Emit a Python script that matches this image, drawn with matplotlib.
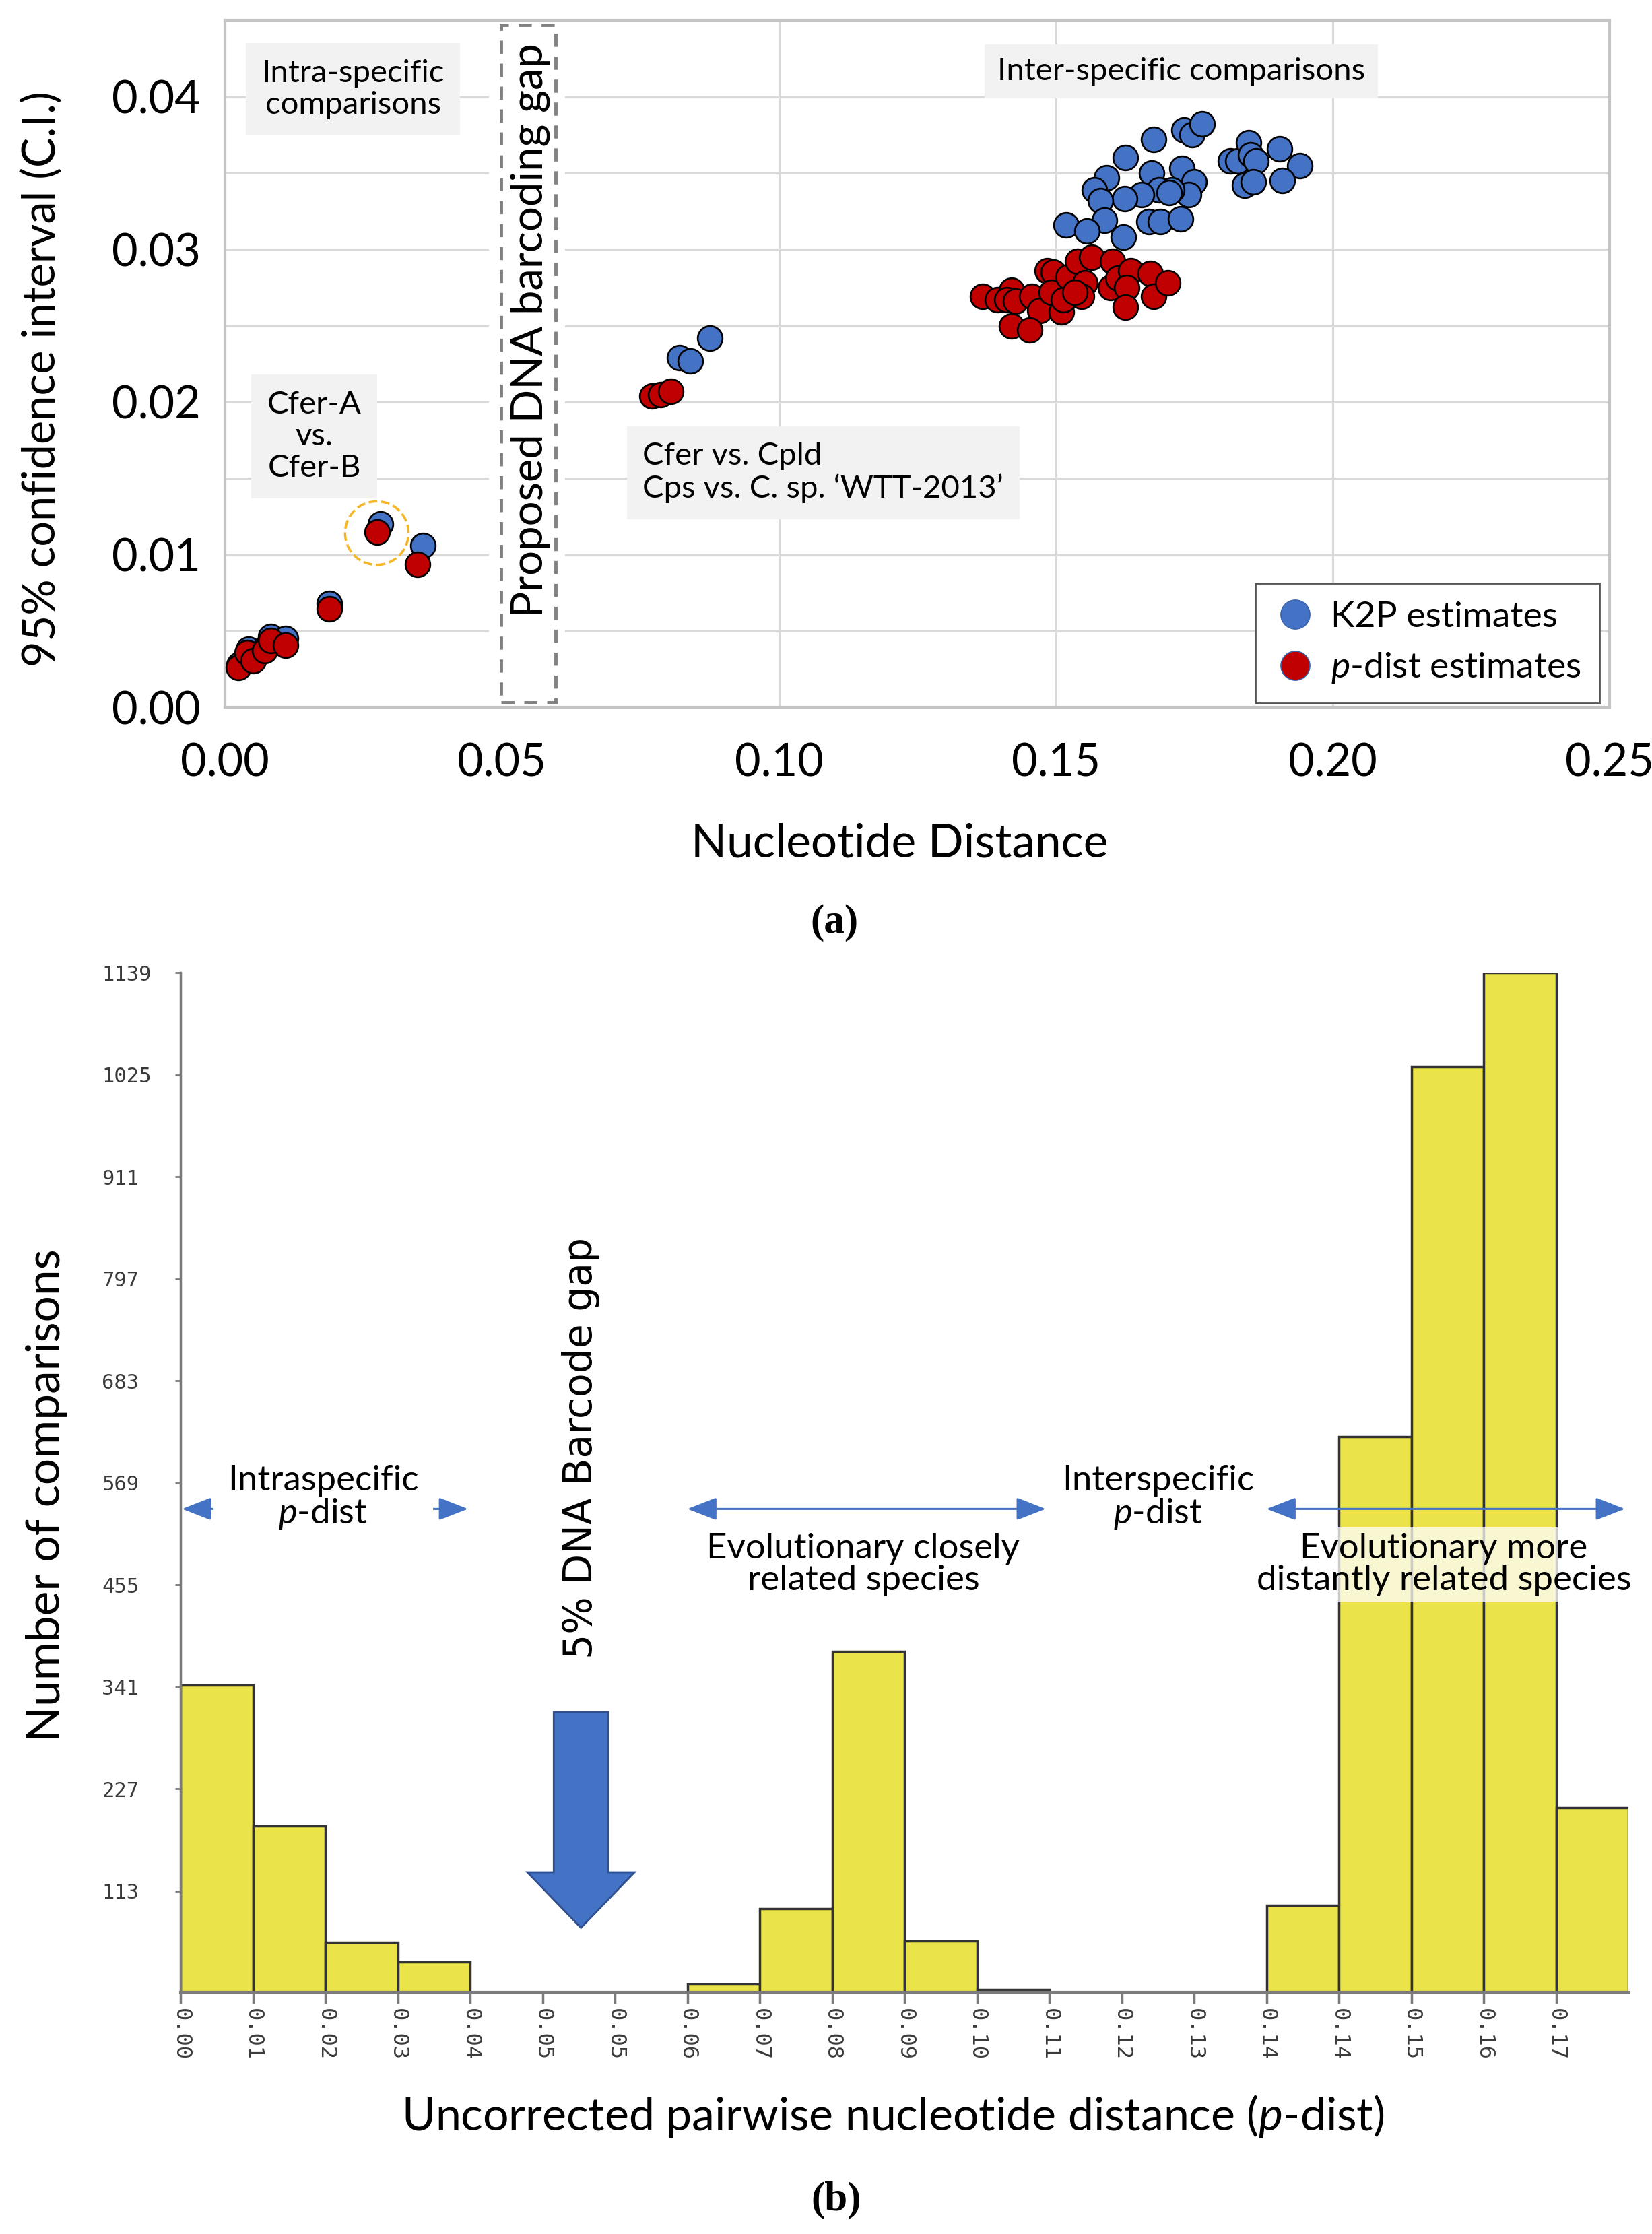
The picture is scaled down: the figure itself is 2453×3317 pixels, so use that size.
import numpy as np
import matplotlib.pyplot as plt
import matplotlib.patches as mpatches
from matplotlib.lines import Line2D

plt.rcParams['font.family'] = ['Lato', 'DejaVu Sans']
plt.rcParams['mathtext.fontset'] = 'custom'
plt.rcParams['mathtext.rm'] = 'Lato'
plt.rcParams['mathtext.it'] = 'Lato:italic'

# --- panel (a): 95% C.I. vs nucleotide distance ---
k2p_x = [0.0025, 0.0042, 0.0052, 0.0073, 0.0083, 0.0109, 0.0188, 0.0281, 0.0357,
         0.0821, 0.0840, 0.0875,
         0.1677, 0.1731, 0.1746, 0.1764, 0.1626, 0.1815, 0.1828, 0.1848, 0.1852,
         0.1861, 0.1841, 0.1857, 0.1904, 0.1940, 0.1909, 0.1673, 0.1728, 0.1749,
         0.1740, 0.1709, 0.1686, 0.1655, 0.1624, 0.1592, 0.1570, 0.1581, 0.1588,
         0.1519, 0.1556, 0.1622, 0.1668, 0.1689, 0.1725, 0.1705]
k2p_y = [0.0028, 0.0038, 0.0032, 0.0039, 0.00466, 0.0045, 0.0068, 0.0120, 0.0106,
         0.0229, 0.0227, 0.0242,
         0.0372, 0.0378, 0.0375, 0.0382, 0.0360, 0.0358, 0.0358, 0.0370, 0.0362,
         0.0358, 0.0342, 0.0344, 0.0366, 0.0355, 0.0345, 0.0350, 0.0353, 0.0344,
         0.0336, 0.0339, 0.0339, 0.0336, 0.0333, 0.0347, 0.0339, 0.0332, 0.0319,
         0.0316, 0.0312, 0.0308, 0.0318, 0.0318, 0.0320, 0.0337]

pdist_x = [0.0024, 0.0040, 0.0051, 0.0072, 0.0083, 0.0109, 0.0188, 0.0275, 0.0348,
           0.0771, 0.0787, 0.0805,
           0.1368, 0.1395, 0.1420, 0.1411, 0.1427, 0.1456, 0.1471, 0.1420, 0.1453,
           0.1485, 0.1496, 0.1492, 0.1510, 0.1514, 0.1522, 0.1539, 0.1565, 0.1552,
           0.1547, 0.1534, 0.1603, 0.1599, 0.1612, 0.1635, 0.1628, 0.1626, 0.1671,
           0.1677, 0.1702]
pdist_y = [0.00263, 0.00358, 0.00303, 0.0037, 0.00436, 0.00405, 0.00643, 0.01146, 0.00936,
           0.0204, 0.0205, 0.0207,
           0.0269, 0.0267, 0.0273, 0.0267, 0.0266, 0.0269, 0.0260, 0.0250, 0.0247,
           0.0286, 0.0285, 0.0272, 0.0259, 0.0267, 0.0282, 0.0292, 0.0295, 0.0278,
           0.0269, 0.0272, 0.0292, 0.0275, 0.0281, 0.0286, 0.0275, 0.0262, 0.0284,
           0.0269, 0.0278]

highlight_x = [0.0274]
highlight_y = [0.01141]

# --- panel (b): histogram of p-dist ---
bin_labels = ['0.00', '0.01', '0.02', '0.03', '0.04', '0.05', '0.05', '0.06', '0.07', '0.08',
              '0.09', '0.10', '0.11', '0.12', '0.13', '0.14', '0.14', '0.15', '0.16', '0.17']
bin_counts = [343, 186, 56, 34, 0, 0, 0, 9, 93, 381,
              57, 3, 0, 0, 0, 97, 621, 1034, 1139, 206]
count_ticks = [113, 227, 341, 455, 569, 683, 797, 911, 1025, 1139]

BLUE = '#4472c4'
RED = '#c00000'
BOXGRAY = '#f2f2f2'

fig = plt.figure(figsize=(24.53, 33.17), dpi=100)

# ================= panel (a) =================
ax1 = fig.add_axes([0.1362, 0.6834, 0.8382, 0.3075])
ax1.set_xlim(0, 0.25)
ax1.set_ylim(0, 0.045)
ax1.set_xticks(np.arange(0, 0.251, 0.05))
ax1.set_xticklabels([f'{v:.2f}' for v in np.arange(0, 0.251, 0.05)])
ax1.set_yticks(np.arange(0, 0.041, 0.01))
ax1.set_yticklabels([f'{v:.2f}' for v in np.arange(0, 0.041, 0.01)])
ax1.set_yticks(np.arange(0.005, 0.045, 0.01), minor=True)
ax1.grid(which='both', color='#d9d9d9', lw=2.2, zorder=0)
ax1.set_axisbelow(True)
ax1.tick_params(which='both', length=0, labelsize=48)
ax1.tick_params(axis='x', pad=38)
ax1.tick_params(axis='y', pad=26)
for s in ax1.spines.values():
    s.set_color('#c4c4c4')
    s.set_linewidth(3)

# gap box
ax1.add_patch(mpatches.Rectangle((0.0476, 0), 0.0138, 0.045, facecolor='white',
                                 edgecolor='none', zorder=1))
ax1.add_patch(mpatches.Rectangle((0.0498, 0.0003), 0.0099, 0.0444, facecolor='none',
                                 edgecolor='#808080', lw=3.5, ls=(0, (4, 3)), zorder=2))
ax1.text(0.0551, 0.0247, 'Proposed DNA barcoding gap', rotation=90, fontsize=47,
         ha='center', va='center', zorder=3)

ax1.scatter(k2p_x, k2p_y, s=700, c=BLUE, edgecolors='black', linewidths=1.9, zorder=4)
ax1.scatter(pdist_x, pdist_y, s=700, c=RED, edgecolors='black', linewidths=1.9, zorder=5)
ax1.scatter(highlight_x, highlight_y, s=4600, facecolors='none', edgecolors='#f5b625',
            linewidths=2.5, linestyles='--', zorder=6)

box = dict(boxstyle='square,pad=0.5', facecolor=BOXGRAY, edgecolor='none')
ax1.text(0.0231, 0.0405, 'Intra-specific\ncomparisons', fontsize=34, ha='center',
         va='center', bbox=box, zorder=3, linespacing=1.15)
ax1.text(0.0161, 0.01775, 'Cfer-A\nvs.\nCfer-B', fontsize=34, ha='center', va='center',
         bbox=box, zorder=3, linespacing=1.15)
ax1.text(0.1080, 0.01537, 'Cfer vs. Cpld\nCps vs. C. sp. \u2018WTT-2013\u2019', fontsize=34,
         ha='center', va='center', multialignment='left', bbox=box, zorder=3,
         linespacing=1.15)
ax1.text(0.1726, 0.04167, 'Inter-specific comparisons', fontsize=34, ha='center',
         va='center', bbox=dict(boxstyle='square,pad=0.4', facecolor=BOXGRAY,
                                edgecolor='none'), zorder=3)

handles = [Line2D([], [], ls='none', marker='o', markersize=31, mfc=BLUE, mec='#3a62ad',
                  mew=1.2, label='K2P estimates'),
           Line2D([], [], ls='none', marker='o', markersize=31, mfc=RED, mec='#3a62ad',
                  mew=1.2, label='$p$-dist estimates')]
leg = ax1.legend(handles=handles, loc='lower right', bbox_to_anchor=(0.9925, 0.006),
                 borderaxespad=0, fontsize=38.5, frameon=True, fancybox=False,
                 edgecolor='#555555', framealpha=1, borderpad=0.5, handletextpad=0.4,
                 labelspacing=0.5, handlelength=1.2)
leg.get_frame().set_linewidth(2)
leg.set_zorder(7)

fig.text(0.0257, 0.8303, '95% confidence interval (C.I.)', rotation=90, fontsize=48,
         ha='center', va='center')
fig.text(0.5446, 0.6165, 'Nucleotide Distance', fontsize=50, ha='center', va='baseline')
fig.text(0.5050, 0.5825, '(a)', fontsize=44, ha='center', va='baseline',
         family='Liberation Serif', weight='bold')

# ================= panel (b) =================
ax2 = fig.add_axes([0.1093, 0.1082, 0.8765, 0.4564])
ax2.bar(np.arange(len(bin_counts)), bin_counts, width=1, align='edge', color='#ebe34a',
        edgecolor='#333333', lw=2.5, zorder=2)
ax2.set_xlim(0, len(bin_counts))
ax2.set_ylim(0, 1139)
for s in ['top', 'right']:
    ax2.spines[s].set_visible(False)
ax2.spines['left'].set_color('#7a7a7a')
ax2.spines['left'].set_linewidth(2.5)
ax2.spines['bottom'].set_color('#7a7a7a')
ax2.spines['bottom'].set_linewidth(3)

ax2.set_xticks(np.arange(len(bin_labels)))
ax2.set_xticklabels(bin_labels, rotation=270, family='DejaVu Sans Mono', fontsize=23,
                    color='#3a3a3a')
ax2.set_yticks(count_ticks)
ax2.set_yticklabels([str(v) for v in count_ticks], family='DejaVu Sans Mono', fontsize=22,
                    color='#3a3a3a')
for lab in ax2.get_yticklabels():
    lab.set_horizontalalignment('left')
ax2.tick_params(axis='x', length=12, width=2.5, color='#7a7a7a', pad=5)
ax2.tick_params(axis='y', length=6, width=2, color='#7a7a7a', pad=78)

arrow_kw = dict(arrowstyle='<|-|>,head_length=0.9,head_width=0.35', color=BLUE, lw=2.2,
                mutation_scale=30, shrinkA=0, shrinkB=0)
ax2.annotate('', xy=(0.02, 540), xytext=(3.97, 540), arrowprops=arrow_kw, zorder=3)
ax2.annotate('', xy=(7.0, 540), xytext=(11.95, 540), arrowprops=arrow_kw, zorder=3)
ax2.annotate('', xy=(15.0, 540), xytext=(19.95, 540), arrowprops=arrow_kw, zorder=3)

ax2.text(1.97, 552, 'Intraspecific\n$p$-dist', fontsize=38, ha='center', va='center',
         linespacing=1.0, zorder=4,
         bbox=dict(boxstyle='square,pad=0.4', facecolor='white', edgecolor='none'))
ax2.text(13.5, 552, 'Interspecific\n$p$-dist', fontsize=38, ha='center', va='center',
         linespacing=1.0, zorder=4)
ax2.text(9.43, 478, 'Evolutionary closely\nrelated species', fontsize=38, ha='center',
         va='center', linespacing=1.0, zorder=4)
ax2.text(17.45, 478, 'Evolutionary more\ndistantly related species', fontsize=38,
         ha='center', va='center', linespacing=1.0, zorder=4,
         bbox=dict(boxstyle='square,pad=0.15', facecolor='white', edgecolor='none',
                   alpha=0.75))

ax2.text(5.53, 608, '5% DNA Barcode gap', rotation=90, fontsize=42, ha='center',
         va='center', family='DejaVu Sans', zorder=4)
ax2.add_patch(mpatches.FancyArrow(5.53, 313, 0, -241, width=0.75, head_width=1.48,
                                  head_length=62, length_includes_head=True,
                                  facecolor=BLUE, edgecolor='#2f4f8f', lw=2, zorder=4))

fig.text(0.0285, 0.3307, 'Number of comparisons', rotation=90, fontsize=50,
         ha='center', va='center')
fig.text(0.5405, 0.0464, 'Uncorrected pairwise nucleotide distance ($p$-dist)',
         fontsize=49, ha='center', va='baseline')
fig.text(0.5063, 0.0106, '(b)', fontsize=44, ha='center', va='baseline',
         family='Liberation Serif', weight='bold')

fig.savefig('out.png', dpi=100)
